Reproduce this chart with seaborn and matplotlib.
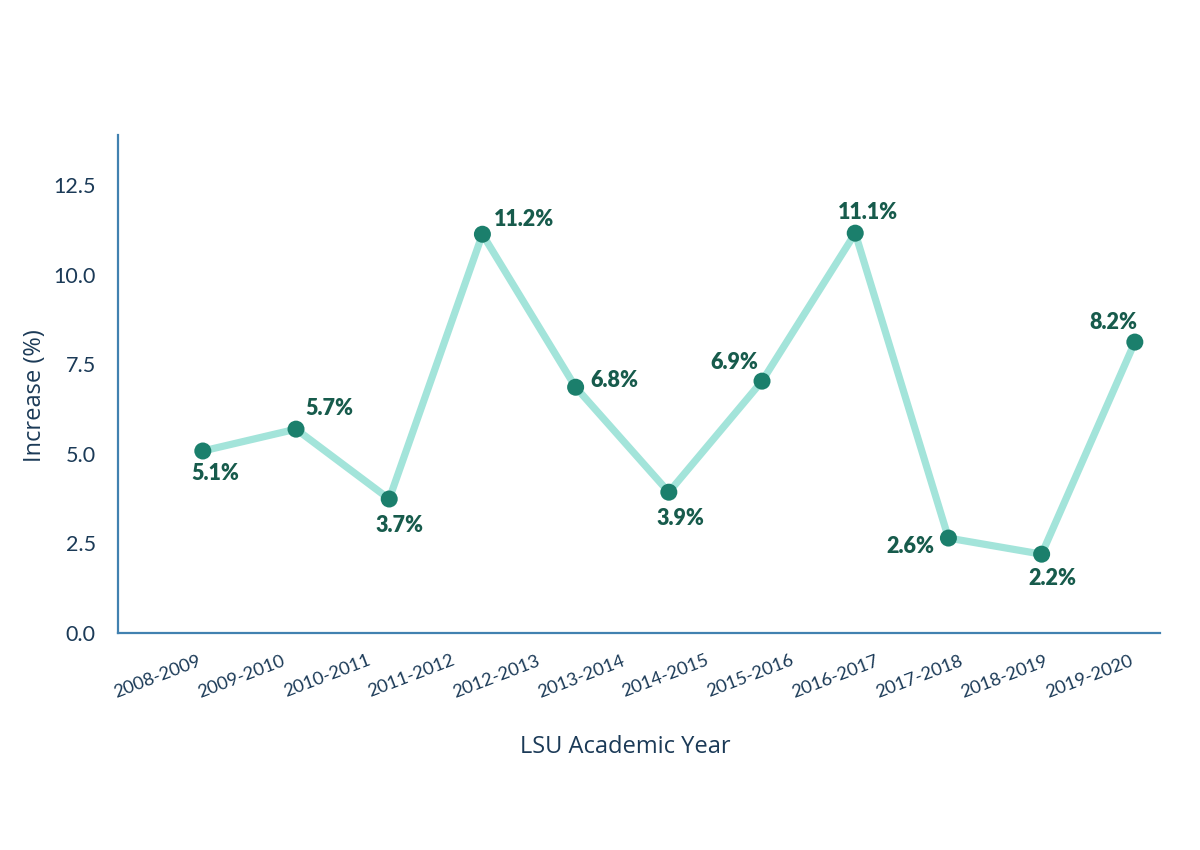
import matplotlib
matplotlib.use("Agg")
import matplotlib.pyplot as plt
import seaborn as sns
import pandas as pd
import numpy as np

# ---- data ----
years = ["2008-2009", "2009-2010", "2010-2011", "2011-2012", "2012-2013", "2013-2014",
         "2014-2015", "2015-2016", "2016-2017", "2017-2018", "2018-2019", "2019-2020"]
point_values = [5.08, 5.69, 3.74, 11.13, 6.86, 3.93, 7.03, 11.16, 2.65, 2.20, 8.12]
point_labels = ["5.1%", "5.7%", "3.7%", "11.2%", "6.8%", "3.9%", "6.9%", "11.1%",
                "2.6%", "2.2%", "8.2%"]
y_ticks = [0.0, 2.5, 5.0, 7.5, 10.0, 12.5]

# label placement (pixel offsets from each marker, alignment)
label_offsets = [(12, -23, "center"), (33, 21, "center"), (10, -26, "center"),
                 (11, 15, "left"), (15, 7, "left"), (12, -26, "center"),
                 (-28, 19, "center"), (13, 21, "center"), (-14, -8, "right"),
                 (11, -24, "center"), (-21, 20, "center")]

LINE = "#a3e4da"
MARK = "#1b7f6c"
LABEL = "#175b4c"
SPINE = "#4181b0"
TEXT = "#1b3a57"

sns.set_theme(style="white")
plt.rcParams["font.family"] = ["Lato", "DejaVu Sans"]

df = pd.DataFrame({"idx": np.arange(len(point_values)), "value": point_values})

fig = plt.figure(figsize=(12, 8.5), dpi=100)
ax = fig.add_axes([118 / 1200, 1 - 633 / 850, (1160 - 118) / 1200, (633 - 135) / 850])

sns.lineplot(data=df, x="idx", y="value", ax=ax, color=LINE, linewidth=5.2,
             solid_capstyle="round", zorder=2)
sns.scatterplot(data=df, x="idx", y="value", ax=ax, color=MARK, s=150,
                edgecolor="none", zorder=3)

for i, (v, lab) in enumerate(zip(point_values, point_labels)):
    dx, dy, ha = label_offsets[i]
    ax.annotate(lab, (i, v), xytext=(dx, dy), textcoords="offset pixels",
                ha=ha, va="center", fontsize=15.5, fontweight="heavy", color=LABEL)

n = len(point_values)
ax.set_xlim(-0.91, n - 1 + 0.27)
ax.set_ylim(0, 13.9)
ax.set_xticks(np.linspace(0, n - 1, len(years)))
ax.set_xticklabels(years)
ax.set_yticks(y_ticks)
ax.set_yticklabels([f"{t:.1f}" for t in y_ticks])
for t in ax.get_xticklabels():
    t.set_rotation(21)
    t.set_ha("right")
    t.set_fontsize(13.2)
    t.set_color(TEXT)
for t in ax.get_yticklabels():
    t.set_fontsize(15.5)
    t.set_color(TEXT)
ax.tick_params(axis="both", length=0)
ax.tick_params(axis="y", pad=16)
ax.tick_params(axis="x", pad=14)

for s in ["top", "right"]:
    ax.spines[s].set_visible(False)
for s in ["left", "bottom"]:
    ax.spines[s].set_color(SPINE)
    ax.spines[s].set_linewidth(1.6)

ax.set_xlabel("LSU Academic Year", fontsize=17, color=TEXT, family=["Open Sans", "DejaVu Sans"])
ax.set_ylabel("Increase (%)", fontsize=17, color=TEXT, family=["Open Sans", "DejaVu Sans"])
ax.xaxis.set_label_coords((625 - 118) / 1042, (633 - 747) / 498)
ax.yaxis.set_label_coords((35 - 118) / 1042, (633 - 396) / 498)
ax.xaxis.label.set_va("center")
ax.yaxis.label.set_va("center")
ax.grid(False)

fig.savefig("out.png", dpi=100, facecolor="white")
